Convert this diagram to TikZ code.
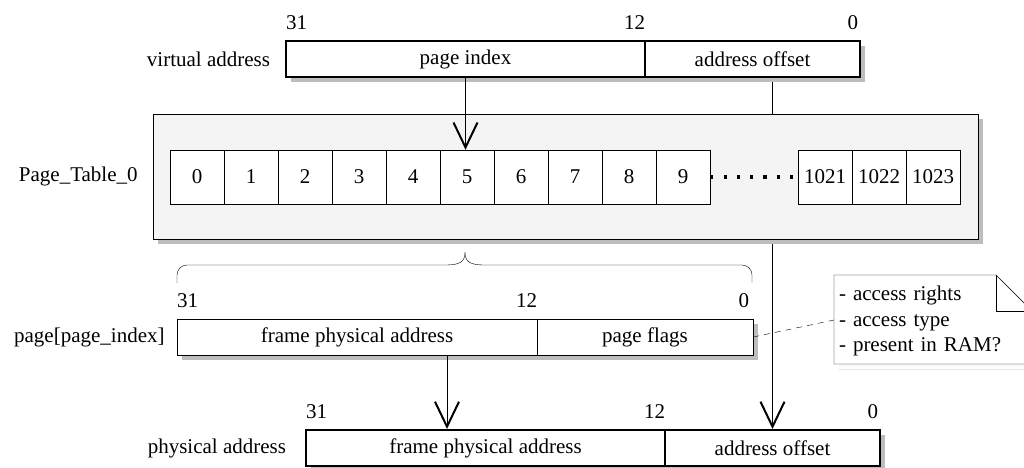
\documentclass[tikz,border=0pt]{standalone}
\usepackage{fontspec}
\setmainfont{Liberation Serif}
\usetikzlibrary{arrows.meta,shadows,calc,backgrounds}
\definecolor{shade}{HTML}{BDBDBD}
\definecolor{panel}{HTML}{F4F4F4}
\begin{document}
\begin{tikzpicture}[x=1pt,y=-1pt, line width=2pt,
  font=\fontsize{21}{25}\selectfont,
  shadowed/.style={drop shadow={shadow xshift=5pt,shadow yshift=-5pt,fill=shade,opacity=1}},
  field/.style={draw, fill=white, minimum height=36pt, inner sep=0pt, shadowed},
  cell/.style={draw, fill=white, minimum width=54pt, minimum height=54pt, inner sep=0pt},
  bit/.style={inner sep=0pt},
  lbl/.style={inner sep=0pt, anchor=east},
  arr/.style={-{Straight Barb[length=25pt,width=24pt,line width=2pt]}},
]
\useasboundingbox (0,0) rectangle (1024,467);

% virtual address
\node[field, minimum width=359pt] (vpi) at (465.5,59) {page index};
\node[field, minimum width=215pt] (vao) at (752.5,59) {address offset};
\node[lbl] (vlab) at ([xshift=-14pt]vpi.west) {virtual address};
\node[bit, anchor=base west] (v31) at ([yshift=11pt]vpi.north west) {31};
\node[bit, anchor=base east] (v12) at ([yshift=11pt]vpi.north east) {12};
\node[bit, anchor=base east] (v0) at ([xshift=-2pt,yshift=11pt]vao.north east) {0};

% physical address
\node[field, minimum width=359pt] (phf) at (485.5,448) {frame physical address};
\node[field, minimum width=215pt] (pao) at (772.5,448) {address offset};
\node[lbl] (plab) at ([xshift=-18pt]phf.west) {physical address};
\node[bit, anchor=base west] (p31) at ([yshift=11pt]phf.north west) {31};
\node[bit, anchor=base east] (p12) at ([yshift=11pt]phf.north east) {12};
\node[bit, anchor=base east] (p0) at ([xshift=-2pt,yshift=11pt]pao.north east) {0};

% offset line (behind the page table)
\begin{pgfonlayer}{background}
\draw[arr] (vao.south -| pao.north) -- (pao.north);
\end{pgfonlayer}

% page table
\node[draw, fill=panel, minimum width=825pt, minimum height=125pt, inner sep=0pt, shadowed] (tab) at (565.5,176.5) {};
\node[lbl] (tlab) at ([xshift=-15pt]tab.west) {Page\_Table\_0};
\foreach \i in {0,...,9}{
  \node[cell] (c\i) at (197+54*\i,177) {\i};
}
\node[cell] (c1021) at (825,177) {1021};
\node[cell] (c1022) at (879,177) {1022};
\node[cell] (c1023) at (933,177) {1023};
\draw[line width=3.2pt, dash pattern=on 3.2pt off 10.1pt] (c9.east) -- (c1021.west);
\draw[arr] (vpi.south) -- (vpi.south |- c5.north);

% brace
\draw[rounded corners=10pt] (177,283) -- (177,265) -- (445,265);
\draw (445,265) .. controls (460,265) and (465,262) .. (465,252) .. controls (465,262) and (470,265) .. (485,265);
\draw[rounded corners=10pt] (485,265) -- (752,265) -- (752,283);

% page entry
\node[field, minimum width=360pt] (pfa) at (357,337) {frame physical address};
\node[field, minimum width=216pt] (pfl) at (645,337) {page flags};
\node[lbl] (elab) at ([xshift=-12pt]pfa.west) {page[page\_index]};
\node[bit, anchor=base west] (e31) at ([yshift=11pt]pfa.north west) {31};
\node[bit, anchor=base east] (e12) at ([yshift=11pt]pfa.north east) {12};
\node[bit, anchor=base east] (e0) at ([xshift=-4pt,yshift=11pt]pfl.north east) {0};

\coordinate (fa) at (447,355);
\draw[arr] (fa) -- (fa |- phf.north);

% note
\fill[shade] (839,369) -- (839,280) -- (1001,280) -- (1037,316) -- (1037,369) -- cycle;
\filldraw[fill=white] (834,364) -- (834,275) -- (996,275) -- (1032,311) -- (1032,364) -- cycle;
\draw (996,275) -- (996,311) -- (1032,311);
\node[inner sep=0pt, minimum width=198pt, minimum height=89pt, text width=188pt, align=left,
      font=\fontsize{21}{25.5}\selectfont] (note) at (933,321) {- access rights\\- access type\\- present in RAM?};
\draw[dash pattern=on 6pt off 5pt] (pfl.east) -- (834,320);
\end{tikzpicture}
\end{document}
